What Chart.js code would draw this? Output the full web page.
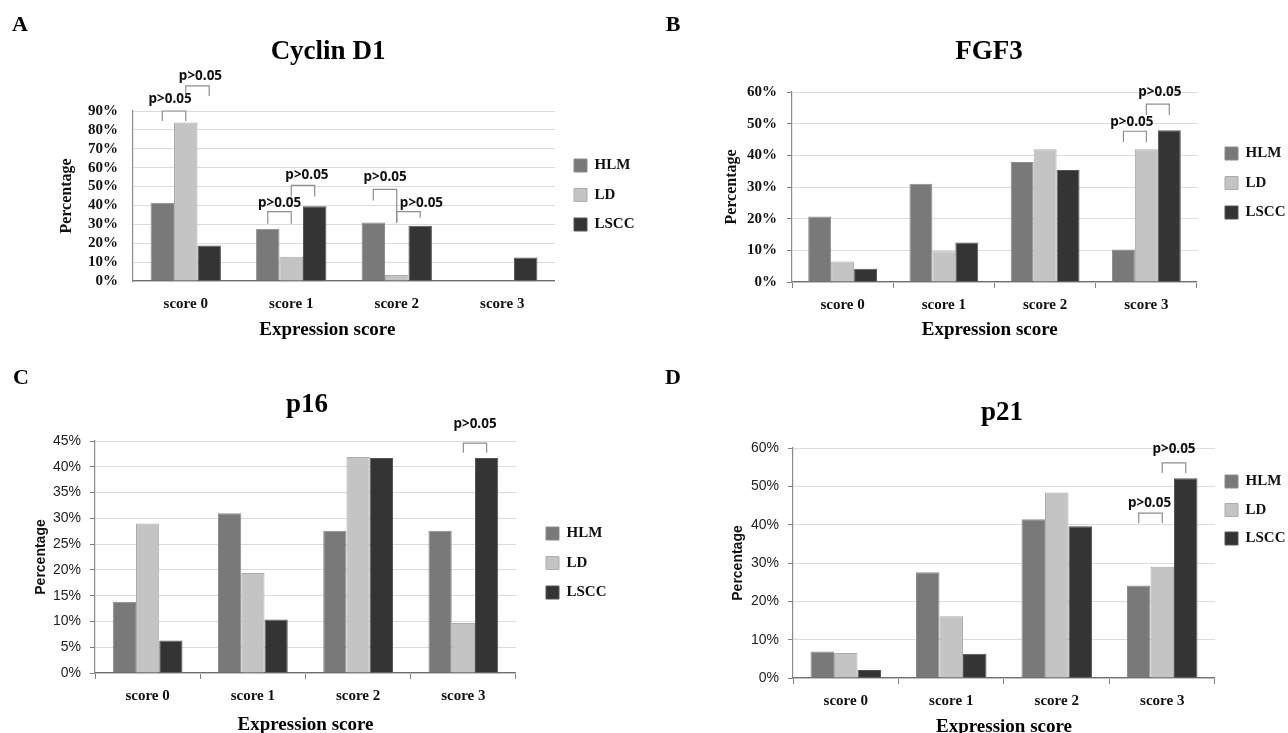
<!DOCTYPE html>
<html>
<head>
<meta charset="utf-8">
<script src="https://cdn.jsdelivr.net/npm/chart.js@4.4.1/dist/chart.umd.min.js"></script>
<style>
  html, body { margin: 0; padding: 0; background: #fff; overflow: hidden; }
  #wrap { position: relative; width: 1288px; height: 733px; overflow: hidden; }
  canvas { position: absolute; }
</style>
</head>
<body>
<div id="wrap">
  <canvas id="chart-a" width="640" height="360" style="left:0;top:0"></canvas>
  <canvas id="chart-b" width="648" height="360" style="left:640px;top:0"></canvas>
  <canvas id="chart-c" width="620" height="390" style="left:0;top:360px"></canvas>
  <canvas id="chart-d" width="659" height="390" style="left:640px;top:360px"></canvas>
</div>
<script>
// data (% of cases)
const categories = ['score 0', 'score 1', 'score 2', 'score 3'];
const groups = ['HLM', 'LD', 'LSCC'];

const cyclinHLM = [41.4, 27.6, 31.0, 0];
const cyclinLD = [83.9, 12.9, 3.2, 0];
const cyclinLSCC = [18.8, 39.6, 29.2, 12.5];

const fgf3HLM = [20.7, 31.0, 37.9, 10.3];
const fgf3LD = [6.5, 9.7, 41.9, 41.9];
const fgf3LSCC = [4.2, 12.5, 35.4, 47.9];

const p16HLM = [13.8, 31.0, 27.6, 27.6];
const p16LD = [29.0, 19.4, 41.9, 9.7];
const p16LSCC = [6.3, 10.4, 41.7, 41.7];

const p21HLM = [6.9, 27.6, 41.4, 24.1];
const p21LD = [6.5, 16.1, 48.4, 29.0];
const p21LSCC = [2.1, 6.3, 39.6, 52.1];

// y axis ranges
const cyclinTicks = { max: 90, step: 10 };
const fgf3Ticks = { max: 60, step: 10 };
const p16Ticks = { max: 45, step: 5 };
const p21Ticks = { max: 60, step: 10 };

// p-value brackets: category, from/to series, bracket top and leg ends (in %)
const cyclinP = [
  { cat: 0, from: 0, to: 1, top: 90, legs: [84.7, 84.7], dx: -4, dy: 12 },
  { cat: 0, from: 1, to: 2, top: 103.3, legs: [98, 98], dx: 3, dy: 10 },
  { cat: 1, from: 0, to: 1, top: 36.7, legs: [30.3, 30.3], dx: 0, dy: 9 },
  { cat: 1, from: 1, to: 2, top: 50.6, legs: [44.7, 44.7], dx: 4, dy: 10 },
  { cat: 2, from: 0, to: 1, top: 48.5, legs: [42.6, 30.9], dx: 0, dy: 12 },
  { cat: 2, from: 1, to: 2, top: 36.7, legs: [30.9, 33.5], dx: 13, dy: 9 }
];
const fgf3P = [
  { cat: 3, from: 0, to: 1, top: 47.6, legs: [44.1, 44.1], dx: -3, dy: 9 },
  { cat: 3, from: 1, to: 2, top: 56.2, legs: [52.7, 52.7], dx: 2, dy: 12 }
];
const p16P = [
  { cat: 3, from: 1, to: 2, top: 44.6, legs: [42.7, 42.7], dx: 0, dy: 19 }
];
const p21P = [
  { cat: 3, from: 0, to: 1, top: 43.0, legs: [40.4, 40.4], dx: -1, dy: 10 },
  { cat: 3, from: 1, to: 2, top: 56.1, legs: [53.5, 53.5], dx: 0, dy: 14 }
];

const fills = ['#797979', '#c4c4c4', '#343434'];
const edges = ['#8c8c8c', '#acacac', '#555555'];
const SERIF = '"Liberation Serif", "Times New Roman", serif';
const SANS = '"Liberation Sans", Arial, sans-serif';

Chart.defaults.color = '#111';

// brackets + "p>0.05" labels, placed from the bars themselves
const pvalPlugin = {
  id: 'pvals',
  afterDatasetsDraw(chart, args, opts) {
    const { ctx } = chart;
    const y = chart.scales.y;
    (opts.items || []).forEach(it => {
      const x1 = chart.getDatasetMeta(it.from).data[it.cat].x;
      const x2 = chart.getDatasetMeta(it.to).data[it.cat].x;
      const yt = y.getPixelForValue(it.top);
      ctx.save();
      ctx.strokeStyle = '#8e8e8e';
      ctx.lineWidth = 1.2;
      ctx.beginPath();
      ctx.moveTo(x1, y.getPixelForValue(it.legs[0]));
      ctx.lineTo(x1, yt);
      ctx.lineTo(x2, yt);
      ctx.lineTo(x2, y.getPixelForValue(it.legs[1]));
      ctx.stroke();
      ctx.font = 'bold 13.5px "Noto Sans", sans-serif';
      ctx.fillStyle = '#111';
      ctx.textAlign = 'center';
      ctx.textBaseline = 'middle';
      ctx.fillText('p>0.05', (x1 + x2) / 2 + it.dx, yt - it.dy);
      ctx.restore();
    });
  }
};

// panel letter (A-D)
const letterPlugin = {
  id: 'letter',
  afterDraw(chart, args, opts) {
    const { ctx } = chart;
    ctx.save();
    ctx.font = 'bold 22px ' + SERIF;
    ctx.fillStyle = '#000';
    ctx.textAlign = 'center';
    ctx.textBaseline = 'middle';
    ctx.fillText(opts.text, opts.x, opts.y);
    ctx.restore();
  }
};

// move the legend block to where it sits in the figure
const legendPlace = {
  id: 'legendPlace',
  beforeDraw(chart, args, opts) {
    const lg = chart.legend;
    if (!lg) return;
    const pad = lg.options.labels.padding;
    const w = lg.width, h = lg.height;
    lg.left = opts.boxX - pad;
    lg.right = lg.left + w;
    lg.top = opts.midY - h / 2;
    lg.bottom = lg.top + h;
  }
};

function makePanel(id, cfg) {
  const serifTicks = cfg.style === 'serif';
  new Chart(document.getElementById(id), {
    type: 'bar',
    data: {
      labels: categories,
      datasets: cfg.values.map((v, i) => ({
        label: groups[i],
        data: v,
        backgroundColor: fills[i],
        borderColor: edges[i],
        borderWidth: 1,
        barPercentage: 1,
        categoryPercentage: cfg.catPct
      }))
    },
    options: {
      responsive: false,
      animation: false,
      devicePixelRatio: 1,
      layout: { padding: { left: cfg.padL, right: cfg.padR, top: 0, bottom: 0 } },
      scales: {
        x: {
          grid: {
            display: cfg.xTicks,
            drawOnChartArea: false,
            drawTicks: cfg.xTicks,
            tickLength: 6,
            color: '#7f7f7f'
          },
          border: { color: '#6f6f6f', width: 1.2 },
          ticks: { padding: cfg.xLabelPad, color: '#111', font: { family: SERIF, size: 15, weight: 'bold' } },
          title: {
            display: true,
            text: 'Expression score' + ' '.repeat(cfg.xTitleShift),
            color: '#000',
            font: { family: SERIF, size: 19, weight: 'bold' },
            padding: { top: cfg.xTitlePad[0], bottom: cfg.xTitlePad[1] }
          }
        },
        y: {
          min: 0,
          max: cfg.ticks.max,
          afterFit: (s) => { s.width = cfg.yWidth; },
          grid: {
            color: '#dcdcdc',
            lineWidth: 1,
            drawTicks: cfg.yTicks,
            tickLength: 5,
            tickColor: '#7f7f7f'
          },
          border: { color: '#8a8a8a', width: 1.2 },
          ticks: {
            stepSize: cfg.ticks.step,
            autoSkip: false,
            padding: cfg.yLabelPad,
            color: serifTicks ? '#111' : '#222',
            font: serifTicks
              ? { family: SERIF, size: 15, weight: 'bold' }
              : { family: SANS, size: 14 },
            callback: (v) => v + '%'
          },
          title: {
            display: true,
            text: 'Percentage',
            color: '#111',
            font: serifTicks
              ? { family: SERIF, size: 16, weight: 'bold' }
              : { family: SANS, size: 14, weight: 'bold' },
            padding: { top: cfg.yTitlePad, bottom: 0 }
          }
        }
      },
      plugins: {
        title: {
          display: true,
          text: cfg.title,
          color: '#000',
          font: { family: SERIF, size: 27, weight: 'bold' },
          padding: { top: cfg.titlePad[0], bottom: cfg.titlePad[1] }
        },
        legend: {
          position: 'right',
          align: 'center',
          labels: {
            boxWidth: 13,
            boxHeight: 13,
            padding: cfg.legendGap,
            color: '#111',
            font: { family: SERIF, size: 15, weight: 'bold' }
          }
        },
        tooltip: { enabled: false },
        pvals: { items: cfg.pvals },
        letter: cfg.letter,
        legendPlace: cfg.legendAt
      }
    },
    plugins: [pvalPlugin, letterPlugin, legendPlace]
  });
}

makePanel('chart-a', {
  title: 'Cyclin D1', style: 'serif',
  values: [cyclinHLM, cyclinLD, cyclinLSCC], ticks: cyclinTicks, pvals: cyclinP,
  catPct: 0.667, padL: 16, padR: 0, yWidth: 117, yTicks: false, yLabelPad: 15, yTitlePad: 41.4,
  xTicks: false, xLabelPad: 14, xTitlePad: [-8.4, 18.6], xTitleShift: 7,
  titlePad: [35.8, 42.8], legendGap: 14.5,
  legendAt: { boxX: 574, midY: 195 }, letter: { text: 'A', x: 20, y: 25 }
});

makePanel('chart-b', {
  title: 'FGF3', style: 'serif',
  values: [fgf3HLM, fgf3LD, fgf3LSCC], ticks: fgf3Ticks, pvals: fgf3P,
  catPct: 0.68, padL: 56, padR: 6, yWidth: 96, yTicks: true, yLabelPad: 10, yTitlePad: 26.4,
  xTicks: true, xLabelPad: 8, xTitlePad: [-3.4, 18.6], xTitleShift: 2,
  titlePad: [35.8, 23.8], legendGap: 14.5,
  legendAt: { boxX: 585, midY: 183 }, letter: { text: 'B', x: 33, y: 25 }
});

makePanel('chart-c', {
  title: 'p16', style: 'sans',
  values: [p16HLM, p16LD, p16LSCC], ticks: p16Ticks, pvals: p16P,
  catPct: 0.663, padL: 13, padR: 19, yWidth: 82, yTicks: true, yLabelPad: 9, yTitlePad: 19.6,
  xTicks: true, xLabelPad: 8, xTitlePad: [0.6, 13.6], xTitleShift: 0,
  titlePad: [28.8, 19.8], legendGap: 14.5,
  legendAt: { boxX: 546, midY: 203 }, letter: { text: 'C', x: 21, y: 18 }
});

makePanel('chart-d', {
  title: 'p21', style: 'sans',
  values: [p21HLM, p21LD, p21LSCC], ticks: p21Ticks, pvals: p21P,
  catPct: 0.668, padL: 65, padR: 0, yWidth: 88, yTicks: true, yLabelPad: 9, yTitlePad: 24.6,
  xTicks: true, xLabelPad: 8, xTitlePad: [-2.4, 11.6], xTitleShift: 0,
  titlePad: [36.8, 18.8], legendGap: 13.5,
  legendAt: { boxX: 585, midY: 150 }, letter: { text: 'D', x: 33, y: 18 }
});
</script>
</body>
</html>
